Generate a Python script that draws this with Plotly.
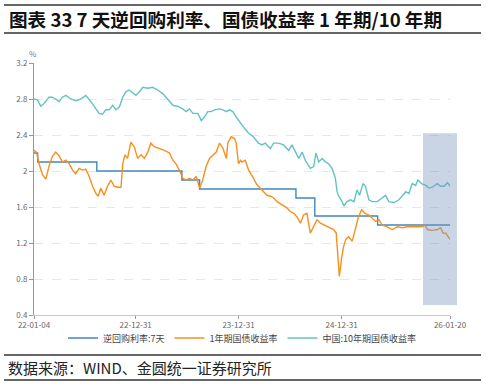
import plotly.graph_objects as go

# ---------------- data ----------------
repo_dates = ["2022-01-04", "2022-01-17", "2022-08-15", "2023-06-13", "2023-08-15",
              "2024-07-22", "2024-09-27", "2025-05-08", "2026-01-20"]
repo_vals = [2.2, 2.1, 2.0, 1.9, 1.8, 1.7, 1.5, 1.4, 1.4]

y1_dates = [
    "2022-01-04", "2022-01-13", "2022-01-22", "2022-02-03", "2022-02-15", "2022-02-26",
    "2022-03-10", "2022-03-22", "2022-04-03", "2022-04-15", "2022-04-27", "2022-05-09",
    "2022-05-21", "2022-06-01", "2022-06-13", "2022-06-25", "2022-07-07", "2022-07-19",
    "2022-07-31", "2022-08-12", "2022-08-20", "2022-08-29", "2022-09-10", "2022-09-22",
    "2022-10-04", "2022-10-16", "2022-10-28", "2022-11-09", "2022-11-15", "2022-11-23",
    "2022-12-02", "2022-12-14", "2022-12-26", "2023-01-07", "2023-01-19", "2023-01-31",
    "2023-02-12", "2023-02-23", "2023-03-07", "2023-03-25", "2023-04-12", "2023-04-30",
    "2023-05-12", "2023-05-23", "2023-06-04", "2023-06-16", "2023-06-28", "2023-07-10",
    "2023-07-22", "2023-08-03", "2023-08-15", "2023-08-26", "2023-09-07", "2023-09-19",
    "2023-10-01", "2023-10-13", "2023-10-25", "2023-11-06", "2023-11-18", "2023-11-23",
    "2023-12-05", "2023-12-17", "2023-12-23", "2023-12-31", "2024-01-07",
    "2024-01-12", "2024-01-24", "2024-02-05", "2024-02-22", "2024-03-05", "2024-03-17",
    "2024-03-29", "2024-04-10", "2024-04-22", "2024-05-04", "2024-05-16", "2024-05-27",
    "2024-06-08", "2024-06-20", "2024-07-02", "2024-07-14", "2024-07-26", "2024-08-07",
    "2024-08-18", "2024-08-30", "2024-09-11", "2024-09-23", "2024-10-05", "2024-10-17",
    "2024-10-29", "2024-11-10", "2024-11-21", "2024-12-03", "2024-12-12", "2024-12-18",
    "2024-12-23", "2024-12-31", "2025-01-07", "2025-01-15", "2025-01-25", "2025-02-07",
    "2025-02-18", "2025-02-28", "2025-03-12", "2025-03-24", "2025-04-07", "2025-04-19",
    "2025-05-01", "2025-05-13", "2025-05-24", "2025-06-11", "2025-06-29", "2025-07-17",
    "2025-08-04", "2025-08-21", "2025-09-08", "2025-09-26", "2025-10-14", "2025-10-23",
    "2025-11-01", "2025-11-18", "2025-12-06", "2025-12-18", "2025-12-26", "2026-01-05",
    "2026-01-14", "2026-01-20",
]
y1_vals = [
    2.23, 2.21, 2.08, 1.96, 1.91, 2.05,
    2.16, 2.21, 2.17, 2.10, 2.12, 2.08,
    2.01, 1.97, 2.03, 2.01, 2.02, 1.94,
    1.83, 1.75, 1.72, 1.81, 1.73, 1.83,
    1.90, 1.83, 1.82, 1.82, 2.08, 2.18,
    2.14, 2.32, 2.27, 2.14, 2.18, 2.14,
    2.21, 2.31, 2.27, 2.25, 2.23, 2.20,
    2.12, 2.08, 2.01, 1.92, 1.90, 1.92,
    1.90, 1.94, 1.81, 1.90, 2.05, 2.14,
    2.18, 2.21, 2.31, 2.25, 2.14, 2.31,
    2.38, 2.36, 2.31, 2.08, 2.12,
    2.10, 2.12, 2.01, 1.92, 1.85, 1.81,
    1.77, 1.73, 1.72, 1.70, 1.66, 1.64,
    1.62, 1.59, 1.55, 1.53, 1.49, 1.42,
    1.51, 1.53, 1.31, 1.38, 1.46, 1.42,
    1.40, 1.38, 1.37, 1.35, 1.31, 1.09,
    0.83, 1.03, 1.16, 1.24, 1.27, 1.22,
    1.35, 1.48, 1.57, 1.53, 1.51, 1.48,
    1.44, 1.46, 1.40, 1.38, 1.35, 1.38,
    1.37, 1.38, 1.38, 1.38, 1.38, 1.40,
    1.35, 1.34, 1.35, 1.37, 1.31, 1.31,
    1.27, 1.24,
]

y10_dates = [
    "2022-01-04", "2022-01-16", "2022-01-28", "2022-02-09", "2022-02-26", "2022-03-10",
    "2022-03-22", "2022-04-03", "2022-04-15", "2022-04-27", "2022-05-15", "2022-06-01",
    "2022-06-19", "2022-07-07", "2022-07-25", "2022-08-12", "2022-08-23", "2022-09-04",
    "2022-09-16", "2022-09-28", "2022-10-10", "2022-10-22", "2022-11-03", "2022-11-15",
    "2022-11-26", "2022-12-08", "2022-12-20", "2023-01-01", "2023-01-13", "2023-01-25",
    "2023-02-12", "2023-03-01", "2023-03-19", "2023-04-06", "2023-04-18", "2023-04-30",
    "2023-05-12", "2023-05-29", "2023-06-16", "2023-06-28", "2023-07-10", "2023-07-22",
    "2023-08-09", "2023-08-21", "2023-09-01", "2023-09-13", "2023-09-25", "2023-10-07",
    "2023-10-25", "2023-11-06", "2023-11-18", "2023-11-29", "2023-12-11", "2023-12-23",
    "2024-01-07", "2024-01-20",
    "2024-02-05", "2024-02-22", "2024-03-11", "2024-03-23", "2024-04-04", "2024-04-22",
    "2024-05-04", "2024-05-21", "2024-06-08", "2024-06-26", "2024-07-08", "2024-07-20",
    "2024-08-01", "2024-08-13", "2024-08-24", "2024-09-11", "2024-09-23", "2024-10-01",
    "2024-10-11", "2024-10-23", "2024-11-04", "2024-11-15", "2024-11-27", "2024-12-09",
    "2024-12-15", "2024-12-21", "2025-01-02", "2025-01-08", "2025-01-19", "2025-02-01",
    "2025-02-13", "2025-02-24", "2025-03-05", "2025-03-17", "2025-03-26", "2025-04-07",
    "2025-04-19", "2025-05-07", "2025-05-24", "2025-06-05", "2025-06-17", "2025-07-05",
    "2025-07-23", "2025-08-04", "2025-08-16", "2025-08-27", "2025-09-08", "2025-09-20",
    "2025-09-28", "2025-10-11", "2025-10-26", "2025-11-07", "2025-11-18", "2025-12-06",
    "2025-12-18", "2025-12-30", "2026-01-11", "2026-01-20",
]
y10_vals = [
    2.80, 2.79, 2.72, 2.75, 2.82, 2.82,
    2.80, 2.77, 2.82, 2.84, 2.80, 2.78,
    2.80, 2.84, 2.77, 2.68, 2.64, 2.63,
    2.68, 2.68, 2.73, 2.68, 2.71, 2.82,
    2.88, 2.90, 2.87, 2.84, 2.88, 2.93,
    2.92, 2.93, 2.90, 2.86, 2.82, 2.77,
    2.73, 2.72, 2.69, 2.66, 2.69, 2.64,
    2.64, 2.56, 2.60, 2.66, 2.66, 2.68,
    2.69, 2.68, 2.66, 2.68, 2.66, 2.60,
    2.53, 2.48,
    2.42, 2.38, 2.31, 2.29, 2.31, 2.25,
    2.31, 2.31, 2.29, 2.23, 2.29, 2.21,
    2.14, 2.21, 2.12, 2.03, 2.05, 2.20,
    2.10, 2.14, 2.10, 2.08, 2.03, 1.92,
    1.77, 1.72, 1.66, 1.61, 1.66, 1.68,
    1.66, 1.79, 1.73, 1.86, 1.83, 1.68,
    1.66, 1.66, 1.70, 1.73, 1.66, 1.65,
    1.68, 1.73, 1.77, 1.75, 1.86, 1.84,
    1.90, 1.86, 1.84, 1.81, 1.82, 1.86,
    1.83, 1.83, 1.87, 1.83,
]

x_tick_vals = ["2022-01-04", "2022-12-31", "2023-12-31", "2024-12-31", "2026-01-20"]
x_tick_text = ["22-01-04", "22-12-31", "23-12-31", "24-12-31", "26-01-20"]
y_tick_vals = [0.4, 0.8, 1.2, 1.6, 2.0, 2.4, 2.8, 3.2]

series_names = ["逆回购利率:7天", "1年期国债收益率", "中国:10年期国债收益率"]
title_text = "图表 33 7 天逆回购利率、国债收益率 1 年期/10 年期"
source_text = "数据来源：WIND、金圆统一证券研究所"

# highlight band
band_y = [0.51, 2.42]

# ---------------- figure ----------------
FONT = "Noto Sans CJK SC"
fig = go.Figure()
fig.add_trace(go.Scatter(x=repo_dates, y=repo_vals, mode="lines", line_shape="hv",
                         name=series_names[0], line=dict(color="#3f86bf", width=1.4)))
fig.add_trace(go.Scatter(x=y1_dates, y=y1_vals, mode="lines",
                         name=series_names[1], line=dict(color="#f7901e", width=1.4)))
fig.add_trace(go.Scatter(x=y10_dates, y=y10_vals, mode="lines",
                         name=series_names[2], line=dict(color="#62c3c1", width=1.4)))

W, H = 486, 385
L, R, T, B = 34, 36, 63, 70
pw, ph = W - L - R, H - T - B

def px2paper_x(px):
    return (px - L) / pw

def py2paper_y(py):
    return (H - B - py) / ph

shapes = [
    # highlight band
    dict(type="rect", xref="paper", yref="y", x0=px2paper_x(423), x1=px2paper_x(457),
         y0=band_y[0], y1=band_y[1], fillcolor="rgba(120,150,190,0.40)",
         line=dict(width=0), layer="above"),
    # title / source rules
    dict(type="line", xref="paper", yref="paper", x0=px2paper_x(4), x1=px2paper_x(481),
         y0=py2paper_y(5), y1=py2paper_y(5), line=dict(color="#333", width=1.6)),
    dict(type="line", xref="paper", yref="paper", x0=px2paper_x(4), x1=px2paper_x(481),
         y0=py2paper_y(33), y1=py2paper_y(33), line=dict(color="#333", width=1.6)),
    dict(type="line", xref="paper", yref="paper", x0=px2paper_x(4), x1=px2paper_x(481),
         y0=py2paper_y(355), y1=py2paper_y(355), line=dict(color="#333", width=1.6)),
    dict(type="line", xref="paper", yref="paper", x0=px2paper_x(4), x1=px2paper_x(481),
         y0=py2paper_y(380), y1=py2paper_y(380), line=dict(color="#333", width=1.6)),
]

annotations = [
    dict(text="<b>" + title_text + "</b>", xref="paper", yref="paper",
         x=px2paper_x(7), y=py2paper_y(19), xanchor="left", yanchor="middle",
         showarrow=False, font=dict(family=FONT, size=18.6, color="#111")),
    dict(text=source_text, xref="paper", yref="paper",
         x=px2paper_x(6), y=py2paper_y(367), xanchor="left", yanchor="middle",
         showarrow=False, font=dict(family=FONT, size=15, color="#222")),
    dict(text="%", xref="paper", yref="paper",
         x=px2paper_x(33), y=py2paper_y(54), xanchor="center", yanchor="middle",
         showarrow=False, font=dict(family=FONT, size=8, color="#777")),
]

fig.update_layout(
    width=W, height=H,
    margin=dict(l=L, r=R, t=T, b=B, pad=0),
    paper_bgcolor="white", plot_bgcolor="white",
    font=dict(family=FONT, size=8, color="#666"),
    showlegend=True,
    legend=dict(orientation="h", x=0.5, xanchor="center", y=py2paper_y(338),
                yanchor="middle", font=dict(size=9, color="#444"),
                itemwidth=30, tracegroupgap=0, bgcolor="rgba(0,0,0,0)"),
    shapes=shapes, annotations=annotations,
)
fig.update_xaxes(range=["2022-01-04", "2026-01-20"], tickvals=x_tick_vals, ticktext=x_tick_text,
                 showgrid=False, showline=True, linecolor="#c8c8c8", linewidth=1,
                 ticks="outside", ticklen=3, tickcolor="#999",
                 ticklabelstandoff=-1,
                 tickfont=dict(size=8, color="#666"), zeroline=False)
fig.update_yaxes(range=[0.4, 3.2], tickvals=y_tick_vals,
                 showgrid=True, gridcolor="#e6e6e6", griddash="dash", gridwidth=1,
                 showline=True, linecolor="#999", linewidth=1,
                 ticks="outside", ticklen=4, tickcolor="#999",
                 tickfont=dict(size=8, color="#666"), zeroline=False)

fig.write_html("out.html", config={"displayModeBar": False},
               post_script="document.body.style.margin='0';document.body.style.overflow='hidden';")
